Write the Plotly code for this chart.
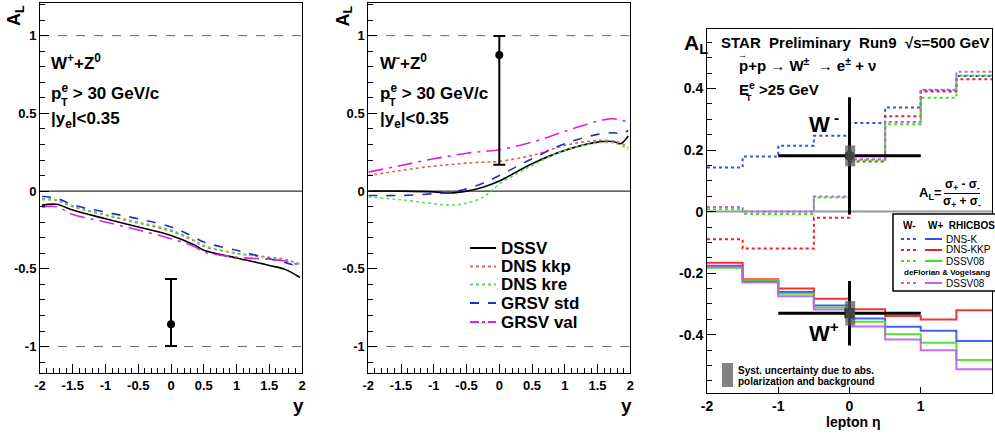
import plotly.graph_objects as go

W, H = 995, 434

# ---------------- data ----------------
# Panel 1 (W+ + Z0) theory curves
p1_x = [-1.97, -1.75, -1.5, -1.0, -0.5, 0.0, 0.35, 0.5, 1.0, 1.5, 1.75, 1.97]
p1_dssv = [-0.09, -0.085, -0.122, -0.178, -0.231, -0.285, -0.345, -0.38, -0.43, -0.478, -0.505, -0.556]
p1_dns_kkp = [-0.055, -0.06, -0.1, -0.155, -0.205, -0.258, -0.32, -0.355, -0.4, -0.425, -0.44, -0.47]
p1_dns_kre = [-0.05, -0.055, -0.095, -0.15, -0.2, -0.25, -0.315, -0.35, -0.4, -0.43, -0.445, -0.47]
p1_grsv_std = [-0.035, -0.045, -0.088, -0.135, -0.178, -0.231, -0.295, -0.328, -0.381, -0.435, -0.46, -0.489]
p1_grsv_val = [-0.103, -0.1, -0.15, -0.199, -0.25, -0.306, -0.355, -0.39, -0.425, -0.438, -0.45, -0.478]
p1_point = dict(x=0.0, y=-0.856, up=0.29, down=0.14)

# Panel 2 (W- + Z0) theory curves
p2_x = [-2.0, -1.5, -1.0, -0.75, -0.5, -0.25, 0.0, 0.5, 1.0, 1.5, 1.75, 1.85, 1.97]
p2_dssv = [0.0, 0.0, -0.005, -0.012, 0.0, 0.025, 0.065, 0.176, 0.262, 0.315, 0.318, 0.305, 0.355]
p2_dns_kkp = [0.1, 0.133, 0.161, 0.17, 0.18, 0.186, 0.191, 0.23, 0.294, 0.326, 0.322, 0.31, 0.283]
p2_dns_kre = [-0.038, -0.056, -0.081, -0.09, -0.077, -0.04, 0.045, 0.165, 0.262, 0.31, 0.31, 0.295, 0.27]
p2_grsv_std = [-0.028, -0.028, -0.017, -0.008, 0.015, 0.05, 0.1, 0.208, 0.305, 0.365, 0.375, 0.37, 0.39]
p2_grsv_val = [0.122, 0.165, 0.208, 0.226, 0.244, 0.255, 0.266, 0.315, 0.384, 0.45, 0.465, 0.455, 0.45]
p2_point = dict(x=0.0, y=0.875, up=0.123, down=0.705)

model_names = ["DSSV", "DNS kkp", "DNS kre", "GRSV std", "GRSV val"]
ref_levels = [1.0, -1.0]

# Panel 3 (STAR Run9) step predictions
eta_edges = [-2.0, -1.5, -1.0, -0.5, 0.0, 0.5, 1.0, 1.5, 2.0]
wm_dns_k = [0.143, 0.179, 0.214, 0.246, 0.288, 0.338, 0.394, 0.44]
wm_dns_kkp = [-0.09, -0.12, -0.12, -0.02, 0.163, 0.31, 0.39, 0.43]
wm_dssv08 = [0.008, -0.008, -0.008, 0.046, 0.167, 0.284, 0.37, 0.442]
wm_dfv_dssv08 = [0.015, 0.0, 0.0, 0.049, 0.17, 0.291, 0.396, 0.454]
wp_dns_k = [-0.176, -0.225, -0.261, -0.305, -0.347, -0.374, -0.387, -0.42]
wp_dns_kkp = [-0.166, -0.22, -0.25, -0.283, -0.317, -0.339, -0.35, -0.32]
wp_dssv08 = [-0.182, -0.222, -0.267, -0.311, -0.358, -0.398, -0.426, -0.482]
wp_dfv_dssv08 = [-0.18, -0.23, -0.275, -0.318, -0.373, -0.415, -0.45, -0.512]

star_x = [0.0, 0.0]
star_y = [0.181, -0.33]          # W-, W+
star_yerr = [0.19, 0.105]
star_xerr = [1.0, 1.0]
star_sys = [0.034, 0.04]

p12_yticks = [-1, -0.5, 0, 0.5, 1]
p12_ytext = ["-1", "-0.5", "0", "0.5", "1"]
p12_xticks = [-2, -1.5, -1, -0.5, 0, 0.5, 1, 1.5, 2]
p12_xtext = ["-2", "-1.5", "-1", "-0.5", "0", "0.5", "1", "1.5", "2"]
p3_yticks = [-0.4, -0.2, 0, 0.2, 0.4]
p3_ytext = ["-0.4", "-0.2", "0", "0.2", "0.4"]
p3_xticks = [-2, -1, 0, 1, 2]
p3_xtext = ["-2", "-1", "0", "1", "2"]

# ---------------- styles ----------------
FONT = "Liberation Sans"
model_styles = [
    dict(color="black", dash="solid", width=1.6),
    dict(color="#e06060", dash="dot", width=1.6),
    dict(color="#60d860", dash="dot", width=1.6),
    dict(color="#2030c0", dash="dash", width=1.6),
    dict(color="#e020e0", dash="longdashdot", width=1.6),
]
C_BLUE, C_RED, C_GREEN, C_PURP = "#3050ee", "#f02020", "#40e020", "#c060ec"


def px(x):
    return x / W


def py(y):
    return 1 - y / H


fig = go.Figure()

# panel 1 & 2 curves
for xa, ya, xs, series in [
    ("x", "y", p1_x, [p1_dssv, p1_dns_kkp, p1_dns_kre, p1_grsv_std, p1_grsv_val]),
    ("x2", "y2", p2_x, [p2_dssv, p2_dns_kkp, p2_dns_kre, p2_grsv_std, p2_grsv_val]),
]:
    for name, ys, st in zip(model_names, series, model_styles):
        fig.add_trace(go.Scatter(x=xs, y=ys, mode="lines", name=name, xaxis=xa, yaxis=ya,
                                 line=dict(color=st["color"], dash=st["dash"], width=st["width"], shape="spline"),
                                 showlegend=False))

for xa, ya, pt in [("x", "y", p1_point), ("x2", "y2", p2_point)]:
    fig.add_trace(go.Scatter(x=[pt["x"]], y=[pt["y"]], mode="markers", xaxis=xa, yaxis=ya,
                             marker=dict(color="black", size=8),
                             error_y=dict(type="data", symmetric=False, array=[pt["up"]],
                                          arrayminus=[pt["down"]], color="black", thickness=2, width=6),
                             showlegend=False))


def step(vals):
    return vals + [vals[-1]]


for vals, col in [(wm_dns_k, C_BLUE), (wm_dns_kkp, C_RED), (wm_dssv08, C_GREEN), (wm_dfv_dssv08, C_PURP)]:
    fig.add_trace(go.Scatter(x=eta_edges, y=step(vals), mode="lines", xaxis="x3", yaxis="y3",
                             line=dict(color=col, dash="dot", width=2, shape="hv"), showlegend=False))
for vals, col in [(wp_dns_k, C_BLUE), (wp_dns_kkp, C_RED), (wp_dssv08, C_GREEN), (wp_dfv_dssv08, C_PURP)]:
    fig.add_trace(go.Scatter(x=eta_edges, y=step(vals), mode="lines", xaxis="x3", yaxis="y3",
                             line=dict(color=col, width=2, shape="hv"), opacity=0.9, showlegend=False))

# systematic boxes
for x0, y0, s in zip(star_x, star_y, star_sys):
    fig.add_shape(type="rect", xref="x3", yref="y3", x0=x0 - 0.06, x1=x0 + 0.08, y0=y0 - s, y1=y0 + s,
                  fillcolor="rgba(90,90,90,0.75)", line=dict(width=0), layer="above")

fig.add_trace(go.Scatter(x=star_x, y=star_y, mode="markers", xaxis="x3", yaxis="y3",
                         marker=dict(color="black", size=10, symbol=["circle", "square"]),
                         error_y=dict(type="data", array=star_yerr, color="black", thickness=3, width=0),
                         error_x=dict(type="data", array=star_xerr, color="black", thickness=3, width=0),
                         showlegend=False))

# reference lines
shapes = []
for xr, yr in [("x", "y"), ("x2", "y2")]:
    for lv in ref_levels:
        shapes.append(dict(type="line", xref=xr, yref=yr, x0=-2, x1=2, y0=lv, y1=lv,
                           line=dict(color="#666", width=1, dash="dash"), layer="below"))
    shapes.append(dict(type="line", xref=xr, yref=yr, x0=-2, x1=2, y0=0, y1=0,
                       line=dict(color="black", width=1), layer="below"))
shapes.append(dict(type="line", xref="x3", yref="y3", x0=-2, x1=2, y0=0, y1=0,
                   line=dict(color="#999", width=2), layer="below"))
for s in shapes:
    fig.add_shape(**s)

# ---------------- axes ----------------
def bold(size):
    return dict(family=FONT, size=size, color="black", weight="bold")


ax_common = dict(showline=True, mirror=True, linecolor="black", linewidth=1, ticks="inside",
                 showgrid=False, zeroline=False, tickcolor="black", automargin=False)
y12_range = [-1.17, 1.21]
p1_dom_x = [px(40), px(302)]
p2_dom_x = [px(368.3), px(630.3)]
p12_dom_y = [py(373), py(3)]
minor12 = dict(dtick=0.1, ticklen=5, ticks="inside", tickcolor="black")

layout = dict(
    width=W, height=H, margin=dict(l=0, r=0, t=0, b=0, autoexpand=False), plot_bgcolor="white",
    paper_bgcolor="white", showlegend=False,
    xaxis=dict(domain=p1_dom_x, range=[-2, 2], anchor="y", tickvals=p12_xticks, ticktext=p12_xtext,
               ticklen=9, tickfont=bold(13), minor=minor12, **ax_common),
    yaxis=dict(domain=p12_dom_y, range=y12_range, anchor="x", tickvals=p12_yticks, ticktext=p12_ytext,
               ticklen=9, tickfont=bold(13), minor=minor12, **ax_common),
    xaxis2=dict(domain=p2_dom_x, range=[-2, 2], anchor="y2", tickvals=p12_xticks, ticktext=p12_xtext,
                ticklen=9, tickfont=bold(13), minor=minor12, **ax_common),
    yaxis2=dict(domain=p12_dom_y, range=y12_range, anchor="x2", tickvals=p12_yticks, ticktext=p12_ytext,
                ticklen=9, tickfont=bold(13), minor=minor12, **ax_common),
    xaxis3=dict(domain=[px(707), px(992)], range=[-2, 2], anchor="y3", tickvals=p3_xticks, ticktext=p3_xtext,
                ticklen=6, tickfont=bold(14), **ax_common),
    yaxis3=dict(domain=[py(393.3), py(29.3)], range=[-0.59, 0.592], anchor="x3", tickvals=p3_yticks,
                ticktext=p3_ytext, ticklen=9, tickfont=bold(14),
                minor=dict(dtick=0.05, ticklen=5, ticks="inside", tickcolor="black"), **ax_common),
)
fig.update_layout(**layout)

# ---------------- annotations ----------------
ann = []


def text(x, y, t, size, xanchor="left", yanchor="middle", weight="bold", angle=0, color="black"):
    ann.append(dict(x=px(x), y=py(y), xref="paper", yref="paper", text=t, showarrow=False,
                    xanchor=xanchor, yanchor=yanchor, textangle=angle,
                    font=dict(family=FONT, size=size, color=color, weight=weight)))


for off, sign in [(0, "+"), (328.5, "-")]:
    text(16 + off, 16, "A<sub>L</sub>", 18, xanchor="center", angle=-90)
    text(49 + off, 62, "W<sup>" + sign + "</sup>+Z<sup>0</sup>", 17)
    text(49 + off, 92, "p<sup>e</sup> > 30 GeV/c", 17)
    text(64 + off, 102, "T", 11, xanchor="center")
    text(49 + off, 120, "|y<sub>e</sub>|<0.35", 17)
    text(298 + off, 405, "y", 19, xanchor="center")

# panel 2 legend
leg_rows = [248, 266.5, 284.5, 303, 322]
for name, st, yy in zip(model_names, model_styles, leg_rows):
    fig.add_shape(type="line", xref="paper", yref="paper", x0=px(470), x1=px(496), y0=py(yy), y1=py(yy),
                  line=dict(color=st["color"], dash=st["dash"] if st["dash"] != "longdashdot" else "dashdot", width=2))
    text(499, yy, name, 17)

# panel 3 texts
text(682, 44, "A<sub>L</sub>", 21)
text(719, 42, "STAR  Preliminary  Run9  \u221as=500 GeV", 15)
text(737, 65, "p+p \u2192 W<sup>\u00b1</sup>  \u2192 e<sup>\u00b1</sup> + \u03bd", 15)
text(742, 55, "\u2192", 9, xanchor="center")
text(737, 88, "E<sup>e</sup> >25 GeV", 15)
text(749, 98, "T", 9, xanchor="center")
text(807, 123, "W<sup> -</sup>", 22)
text(807, 332, "W<sup>+</sup>", 22)
text(917, 193, "A<sub>L</sub>=", 13)
text(962, 185, "\u03c3<sub>+</sub> - \u03c3<sub>-</sub>", 12, xanchor="center")
text(962, 202, "\u03c3<sub>+</sub> + \u03c3<sub>-</sub>", 12, xanchor="center")
fig.add_shape(type="line", xref="paper", yref="paper", x0=px(944), x1=px(980), y0=py(193.5), y1=py(193.5),
              line=dict(color="black", width=1))

# panel 3 legend box
fig.add_shape(type="rect", xref="paper", yref="paper", x0=px(893), x1=px(1000), y0=py(291), y1=py(214),
              line=dict(color="black", width=1.5), fillcolor="white", layer="above")
text(901, 226, "W-", 10)
text(926, 226, "W+  RHICBOS", 10)
leg3 = [(239, C_BLUE, "DNS-K"), (250, C_RED, "DNS-KKP"), (261, C_GREEN, "DSSV08"), (283, C_PURP, "DSSV08")]
for yy, col, lab in leg3:
    fig.add_shape(type="line", xref="paper", yref="paper", x0=px(901), x1=px(917), y0=py(yy), y1=py(yy),
                  line=dict(color=col, dash="dot", width=2), layer="above")
    fig.add_shape(type="line", xref="paper", yref="paper", x0=px(925), x1=px(942), y0=py(yy), y1=py(yy),
                  line=dict(color=col, width=2), layer="above")
    text(944, yy, lab, 10, weight="normal")
text(902, 272.5, "deFlorian & Vogelsang", 8)

# syst uncertainty legend
fig.add_shape(type="rect", xref="paper", yref="paper", x0=px(722), x1=px(733), y0=py(387), y1=py(363),
              fillcolor="rgba(90,90,90,0.75)", line=dict(width=0))
text(736, 370, "Syst. uncertainty due to abs.", 10)
text(736, 381, "polarization and background", 10)
text(853, 422, "lepton \u03b7", 14, xanchor="center")

fig.update_layout(annotations=ann)
fig.write_html("out.html", config={"displayModeBar": False},
               post_script="document.body.style.margin='0';document.body.style.overflow='hidden';")
